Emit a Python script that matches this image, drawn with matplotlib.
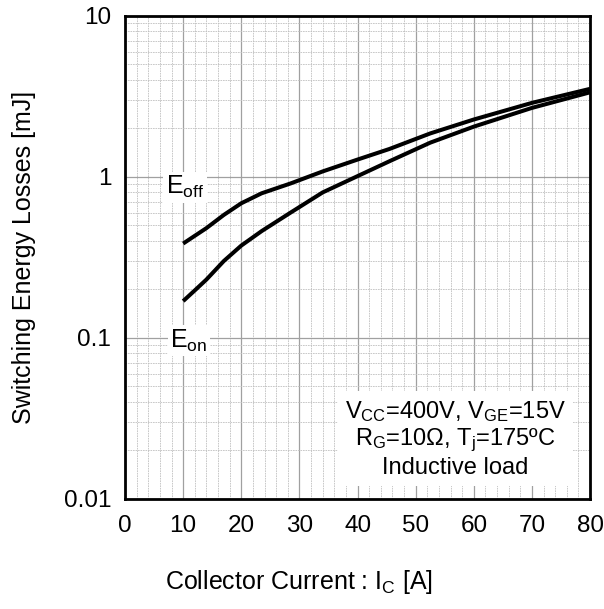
import numpy as np
import matplotlib
matplotlib.use('Agg')
import matplotlib.pyplot as plt
from matplotlib.ticker import MultipleLocator, LogLocator, FixedLocator, NullFormatter

plt.rcParams['font.family'] = ['Liberation Sans', 'DejaVu Sans']
plt.rcParams['mathtext.fontset'] = 'custom'
plt.rcParams['mathtext.rm'] = 'Liberation Sans'
plt.rcParams['mathtext.it'] = 'Liberation Sans'

# collector current [A]
ic = [10, 12, 14, 17, 20, 23.5, 28.5, 34, 40, 45.5, 52.5, 60, 70, 80]
# switching energy [mJ]
e_off = [0.385, 0.43, 0.48, 0.58, 0.685, 0.79, 0.91, 1.08, 1.28, 1.49, 1.86, 2.27, 2.88, 3.52]
e_on = [0.169, 0.197, 0.23, 0.30, 0.374, 0.46, 0.60, 0.80, 1.01, 1.25, 1.63, 2.05, 2.68, 3.35]

x_ticks = [0, 10, 20, 30, 40, 50, 60, 70, 80]
y_ticks = [0.01, 0.1, 1, 10]
y_labels = ['0.01', '0.1', '1', '10']


def main():
    fig = plt.figure(figsize=(6.04, 6.09), dpi=100)
    ax = fig.add_axes([0.207, 0.181, 0.770, 0.793])

    ax.set_yscale('log')
    ax.set_xlim(0, 80)
    ax.set_ylim(0.01, 10)

    ax.xaxis.set_major_locator(FixedLocator(x_ticks))
    ax.xaxis.set_minor_locator(MultipleLocator(2))
    ax.yaxis.set_major_locator(FixedLocator(y_ticks))
    ax.set_yticklabels(y_labels)
    ax.yaxis.set_minor_locator(LogLocator(base=10, subs=np.arange(2, 10)))
    ax.yaxis.set_minor_formatter(NullFormatter())

    ax.grid(which='major', color='#a0a0a0', linewidth=0.9, linestyle='-')
    ax.grid(which='minor', color='#c0c0c0', linewidth=0.6, linestyle=(0, (2, 1)))
    ax.set_axisbelow(True)

    ax.tick_params(which='both', length=0, labelsize=17.5)
    ax.tick_params(axis='x', pad=12)
    ax.tick_params(axis='y', pad=10)
    for s in ax.spines.values():
        s.set_linewidth(2)
        s.set_color('black')

    ax.plot(ic, e_off, color='black', linewidth=2.9, solid_capstyle='butt')
    ax.plot(ic, e_on, color='black', linewidth=2.9, solid_capstyle='butt')

    ax.text(10.3, 0.86, r'$\mathregular{E_{off}}$', fontsize=18, ha='center', va='center',
            bbox=dict(facecolor='white', edgecolor='none', pad=2))
    ax.text(11.0, 0.096, r'$\mathregular{E_{on}}$', fontsize=18, ha='center', va='center',
            bbox=dict(facecolor='white', edgecolor='none', pad=2))

    ax.text(0.71, 0.124,
            r'$\mathregular{V_{CC}}$=400V, $\mathregular{V_{GE}}$=15V' + '\n'
            + r'$\mathregular{R_G}$=10Ω, $\mathregular{T_j}$=175ºC' + '\n'
            + 'Inductive load',
            transform=ax.transAxes, fontsize=17, ha='center', va='center',
            linespacing=1.15,
            bbox=dict(facecolor='white', edgecolor='none', pad=5))

    fig.text(0.495, 0.045, r'Collector Current : $\mathregular{I_C}$ [A]', fontsize=18,
             ha='center', va='center')
    ax.set_ylabel('Switching Energy Losses [mJ]', fontsize=18, labelpad=20)

    fig.savefig('out.png', dpi=100)


if __name__ == '__main__':
    main()
